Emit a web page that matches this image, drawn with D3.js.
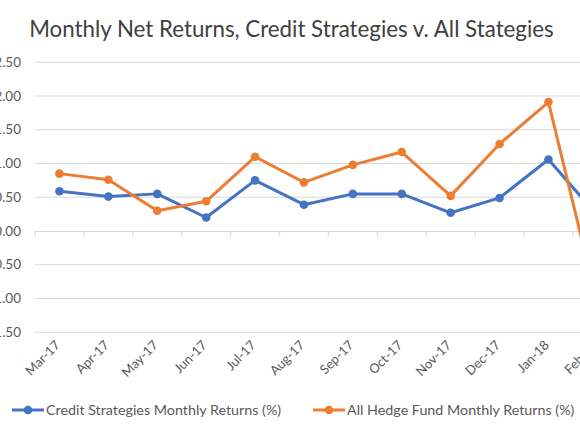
<!DOCTYPE html>
<html>
<head>
<meta charset="utf-8">
<script src="https://cdn.jsdelivr.net/npm/d3@7"></script>
<style>
html,body{margin:0;padding:0;background:#fff;overflow:hidden;}
svg{display:block;font-family:Lato,"Open Sans",sans-serif;}
</style>
</head>
<body>
<svg id="chart" width="580" height="435"></svg>
<script>
const months = ["Mar-17","Apr-17","May-17","Jun-17","Jul-17","Aug-17","Sep-17","Oct-17","Nov-17","Dec-17","Jan-18","Feb-18"];
const creditReturns = [0.59,0.51,0.55,0.20,0.75,0.39,0.55,0.55,0.27,0.49,1.06,0.23];
const allHedgeReturns = [0.85,0.76,0.30,0.44,1.10,0.72,0.98,1.17,0.52,1.29,1.91,-1.07];
const yTicks = [-1.5,-1.0,-0.5,0,0.5,1.0,1.5,2.0,2.5];
const seriesNames = ["Credit Strategies Monthly Returns (%)","All Hedge Fund Monthly Returns (%)"];
const seriesColors = ["#4472C4","#ED7D31"];
const chartTitle = "Monthly Net Returns, Credit Strategies v. All Stategies";

const svg = d3.select("#chart");
const left = 35, bandW = 48.9;
const x = d3.scaleBand().domain(months).range([left, left + bandW*months.length]).paddingInner(0).paddingOuter(0);
const y = d3.scaleLinear().domain([-1.5, 2.5]).range([332.25, 62.25]);

// gridlines
svg.append("g").selectAll("line").data(yTicks.filter(d=>d!==0)).join("line")
  .attr("x1", left).attr("x2", left + bandW*months.length)
  .attr("y1", d=>y(d)).attr("y2", d=>y(d))
  .attr("stroke", "#d9d9d9").attr("stroke-width", 1);

// y labels
svg.append("g").selectAll("text").data(yTicks).join("text")
  .attr("x", 21).attr("y", d=>y(d)).attr("dy","0.35em")
  .attr("text-anchor","end").attr("fill","#595959").attr("font-size", 13.5)
  .text(d=>d3.format(".2f")(d).replace("−","-"));

// x axis at zero
const xAxis = d3.axisBottom(x).tickSize(0).tickFormat("");
const gx = svg.append("g").attr("transform", `translate(0,${y(0)})`).call(xAxis);
gx.select(".domain").attr("stroke","#d9d9d9").attr("stroke-width",1.2);
const boundaries = months.map(m=>x(m)).concat([x(months[months.length-1])+x.bandwidth()]);
gx.selectAll(".btick").data(boundaries).join("line").attr("class","btick")
  .attr("x1", d=>d).attr("x2", d=>d).attr("y1",0).attr("y2",5.5)
  .attr("stroke","#d9d9d9").attr("stroke-width",1.2);

// x labels
svg.append("g").selectAll("text").data(months).join("text")
  .attr("transform", d=>`translate(${x(d)+x.bandwidth()/2+1.5},346) rotate(-45)`)
  .attr("text-anchor","end").attr("fill","#595959").attr("font-size",13)
  .text(d=>d);

// lines
const cx = d=>x(d)+x.bandwidth()/2;
[creditReturns, allHedgeReturns].forEach((vals,i)=>{
  const data = months.map((m,j)=>({m, v: vals[j]}));
  const line = d3.line().x(d=>cx(d.m)).y(d=>y(d.v));
  svg.append("path").datum(data).attr("d", line)
    .attr("fill","none").attr("stroke", seriesColors[i]).attr("stroke-width",3).attr("stroke-linejoin","round");
  svg.append("g").selectAll("circle").data(data).join("circle")
    .attr("cx", d=>cx(d.m)).attr("cy", d=>y(d.v)).attr("r",4.3).attr("fill", seriesColors[i]);
});

// title
svg.append("text").attr("x",291.5).attr("y",37).attr("text-anchor","middle")
  .attr("fill","#404040").attr("font-size",22.3).text(chartTitle);

// legend
const legendX = [12, 313];
seriesNames.forEach((n,i)=>{
  const g = svg.append("g").attr("transform", `translate(${legendX[i]},410)`);
  g.append("line").attr("x1",0).attr("x2",32).attr("y1",0).attr("y2",0).attr("stroke",seriesColors[i]).attr("stroke-width",3);
  g.append("circle").attr("cx",16).attr("cy",0).attr("r",4.3).attr("fill",seriesColors[i]);
  g.append("text").attr("x",34).attr("y",0).attr("dy","0.35em").attr("fill","#595959").attr("font-size",14.3).text(n);
});
</script>
</body>
</html>
